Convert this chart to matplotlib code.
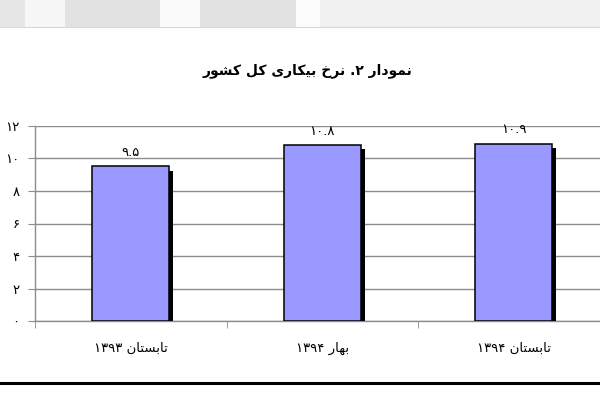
import matplotlib
matplotlib.use('Agg')
import matplotlib.pyplot as plt
import matplotlib.patheffects as pe
from matplotlib.patches import Rectangle
from matplotlib.lines import Line2D

plt.rcParams['font.family'] = ['DejaVu Sans']

# data
title = 'نمودار ۲. نرخ بیکاری کل کشور'
categories = ['تابستان ۱۳۹۳', 'بهار ۱۳۹۴', 'تابستان ۱۳۹۴']
values = [9.5, 10.8, 10.9]
y_ticks = [0, 2, 4, 6, 8, 10, 12]

# matplotlib does not shape arabic script -> presentation forms by hand
# (isolated, final, initial, medial)
FORMS = {
    'ا': ('\uFE8D', '\uFE8E', None, None),
    'ب': ('\uFE8F', '\uFE90', '\uFE91', '\uFE92'),
    'ت': ('\uFE95', '\uFE96', '\uFE97', '\uFE98'),
    'خ': ('\uFEA5', '\uFEA6', '\uFEA7', '\uFEA8'),
    'د': ('\uFEA9', '\uFEAA', None, None),
    'ر': ('\uFEAD', '\uFEAE', None, None),
    'س': ('\uFEB1', '\uFEB2', '\uFEB3', '\uFEB4'),
    'ش': ('\uFEB5', '\uFEB6', '\uFEB7', '\uFEB8'),
    'ل': ('\uFEDD', '\uFEDE', '\uFEDF', '\uFEE0'),
    'م': ('\uFEE1', '\uFEE2', '\uFEE3', '\uFEE4'),
    'ن': ('\uFEE5', '\uFEE6', '\uFEE7', '\uFEE8'),
    'ه': ('\uFEE9', '\uFEEA', '\uFEEB', '\uFEEC'),
    'و': ('\uFEED', '\uFEEE', None, None),
    'ی': ('\uFBFC', '\uFBFD', '\uFBFE', '\uFBFF'),
    'ک': ('\uFB8E', '\uFB8F', '\uFB90', '\uFB91'),
}
FA_DIGITS = str.maketrans('0123456789', '۰۱۲۳۴۵۶۷۸۹')


def shape_word(w):
    out = []
    for i, ch in enumerate(w):
        if ch not in FORMS:
            out.append(ch)
            continue
        prev = w[i - 1] if i > 0 else None
        nxt = w[i + 1] if i + 1 < len(w) else None
        jp = prev in FORMS and FORMS[prev][2] is not None
        jn = nxt in FORMS and FORMS[ch][2] is not None
        iso, fin, ini, med = FORMS[ch]
        if jp and jn:
            out.append(med)
        elif jp:
            out.append(fin)
        elif jn:
            out.append(ini)
        else:
            out.append(iso)
    return ''.join(out)


def rtl(text):
    vis = []
    for w in text.split(' '):
        if w and w[0] in FORMS:
            vis.append(shape_word(w)[::-1])
        else:
            # number run stays left to right, trailing dot goes to the left
            p = ''
            while w and w[-1] in '.:':
                p += w[-1]
                w = w[:-1]
            vis.append(p + w)
    return ' '.join(reversed(vis))


def fa_num(v):
    return str(v).translate(FA_DIGITS)


fig = plt.figure(figsize=(6, 4.18), dpi=100)

# grey strip on top of the page
for x0, x1, c in [(0, 25, '#e6e6e6'), (25, 65, '#f7f7f7'), (65, 160, '#e2e2e2'),
                  (160, 200, '#fbfbfb'), (200, 296, '#e2e2e2'), (296, 320, '#fcfcfc'),
                  (320, 600, '#f1f1f1')]:
    fig.add_artist(Rectangle((x0 / 600, 1 - 27 / 418), (x1 - x0) / 600, 27 / 418,
                             transform=fig.transFigure, color=c, lw=0))
fig.add_artist(Line2D([0, 1], [1 - 27 / 418] * 2, transform=fig.transFigure,
                      color='#d8d8d8', lw=0.8))

# black rule under chart
fig.add_artist(Line2D([0, 1], [1 - 383 / 418] * 2, transform=fig.transFigure,
                      color='black', lw=2.2))

fig.text(0.512, 1 - 71 / 418, rtl(title), ha='center', va='center',
         fontsize=10, fontweight='bold')

ax = fig.add_axes([35 / 600, 96.7 / 418, 574.5 / 600, 195.6 / 418])

x = list(range(len(values)))
bars = ax.bar(x, values, width=0.4, color='#9999ff', edgecolor='black', linewidth=1.1,
              zorder=3)
for b in bars:
    b.set_path_effects([pe.withSimplePatchShadow(offset=(3, -3), shadow_rgbFace='black',
                                                 alpha=1.0)])

for xi, v in zip(x, values):
    ax.text(xi, v + 0.45, fa_num(v), ha='center', va='bottom', fontsize=9.5)

ax.set_xlim(-0.5, 2.5)
ax.set_ylim(0, 12)
ax.set_yticks(y_ticks)
ax.set_yticklabels([fa_num(t) for t in y_ticks], fontsize=9.5)
ax.yaxis.grid(True, color='#8c8c8c', linewidth=1.0, zorder=0)
ax.set_axisbelow(True)

ax.set_xticks(x)
ax.set_xticklabels([rtl(c) for c in categories], fontsize=9.5)
ax.set_xticks([-0.5, 0.5, 1.5], minor=True)
ax.tick_params(axis='x', which='major', length=0, pad=15)
ax.tick_params(axis='x', which='minor', length=5, color='#8c8c8c', direction='out')
ax.tick_params(axis='y', length=5, color='#8c8c8c', pad=6)

for s in ['top', 'right']:
    ax.spines[s].set_visible(False)
for s in ['left', 'bottom']:
    ax.spines[s].set_color('#8c8c8c')
    ax.spines[s].set_linewidth(1.0)

fig.savefig('out.png', dpi=100)
